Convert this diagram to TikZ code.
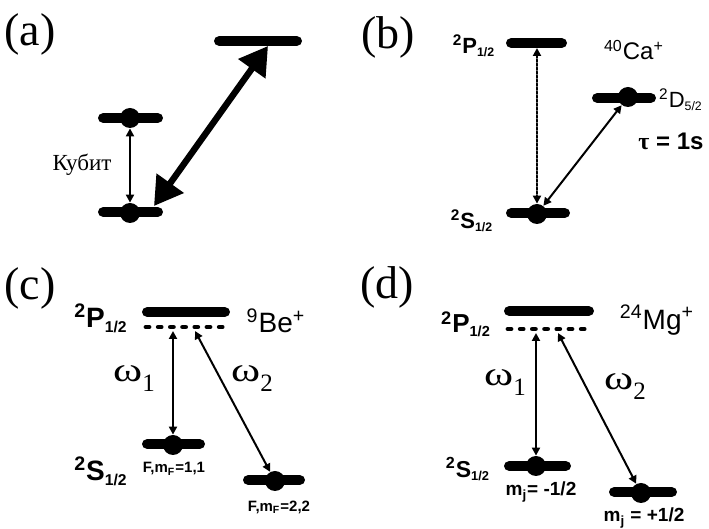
\documentclass[tikz,border=0pt]{standalone}
\usepackage{fontspec}
\usepackage{graphicx}
\setmainfont{Liberation Serif}
\setsansfont{Liberation Sans}
\usetikzlibrary{arrows.meta}

\newcommand{\fsz}[1]{\fontsize{#1}{#1}\selectfont}
\newcommand{\term}[3]{\textsuperscript{#1}#2\textsubscript{\scalebox{0.8}{#3}}}
\newcommand{\omg}[1]{\scalebox{1.3}[1]{ω}\raisebox{-5pt}{\fsz{12.5}#1}}

\begin{document}
\begin{tikzpicture}[x=0.5pt,y=-0.5pt,line cap=round,line join=round,
  qtip/.tip={Triangle[length=4pt,width=4pt]},
  level/.style={fill=black,rounded corners=2.4pt,minimum height=4.8pt,inner sep=0pt},
  pop/.style={circle,fill=black,minimum size=10pt,inner sep=0pt},
  virt/.style={line width=2.4pt,dash pattern=on 1.5pt off 4.6pt},
  trans/.style={qtip-qtip,line width=1pt},
  bigarr/.style={line width=3.2pt,arrows={Triangle[length=14pt,width=16pt]-Triangle[length=14pt,width=16pt]}},
  plab/.style={font=\fsz{23}},
  tlab/.style={font=\sffamily\bfseries\fsz{#1}},
  ilab/.style={font=\sffamily\fsz{#1}},
  wlab/.style={font=\rmfamily\fsz{17}}]
  \useasboundingbox (0,0) rectangle (709,529);

  % ---- (a) qubit levels ----
  \node[plab] (labA) at (30,34) {(a)};
  \node[level,minimum width=44pt] (aTop) at (258,41) {};
  \node[level,minimum width=32.5pt] (aUp) at (130.5,118) {};
  \node[level,minimum width=32.5pt] (aLo) at (130.5,212) {};
  \node[pop] (aUpDot) at (130,118) {};
  \node[pop] (aLoDot) at (130,213) {};
  \node[font=\fsz{11.5}] (qubit) at (82,165) {Кубит};
  \draw[trans] (aUpDot) -- (aLoDot);
  \coordinate (aHi) at (268,46);
  \coordinate (aLoEnd) at (154,206);
  \draw[bigarr] (aLoEnd) -- (aHi);

  % ---- (b) 40Ca+ ----
  \node[plab] (labB) at (388,37) {(b)};
  \node[level,minimum width=30.5pt] (bP) at (536.5,43) {};
  \node[level,minimum width=32pt] (bD) at (624,98) {};
  \node[level,minimum width=32pt] (bS) at (538,213) {};
  \node[pop] (bDDot) at (628,97) {};
  \node[pop] (bSDot) at (537,214) {};
  \node[tlab=11] (bPtxt) at (474,46) {\term{2}{P}{1/2}};
  \node[ilab=12] (ca) at (634,50) {\textsuperscript{40}Ca\textsuperscript{+}};
  \node[ilab=11] (bDtxt) at (681,100) {\term{2}{D}{5/2}};
  \node[tlab=12] (tau) at (671,141) {{\rmfamily τ} = 1s};
  \node[tlab=11] (bStxt) at (472,221) {\term{2}{S}{1/2}};
  \coordinate (bPfoot) at (537,48);
  \draw[trans,dash pattern=on 1.2pt off 0.8pt] (bPfoot) -- (bSDot);
  \draw[trans] (bSDot) -- (bDDot);

  % ---- (c) 9Be+ ----
  \node[plab] (labC) at (30,288) {(c)};
  \node[level,minimum width=44pt] (cP) at (186,312) {};
  \draw[virt] (146,327) -- (225,327);
  \node[level,minimum width=31.5pt] (cS1) at (173.5,444) {};
  \node[level,minimum width=31pt] (cS2) at (274,480) {};
  \node[pop] (cS1Dot) at (173,445) {};
  \node[pop] (cS2Dot) at (275,481) {};
  \node[tlab=14] (cPtxt) at (101,318) {\term{2}{P}{1/2}};
  \node[ilab=14] (be) at (276,321) {\textsuperscript{9}Be\textsuperscript{+}};
  \node[tlab=14] (cStxt) at (101,471) {\term{2}{S}{1/2}};
  \node[tlab=7.5] (cF1) at (174,469) {F,m\textsubscript{F}=1,1};
  \node[tlab=7.5] (cF2) at (279,507) {F,m\textsubscript{F}=2,2};
  \node[wlab] (cW1) at (134,379) {\omg{1}};
  \node[wlab] (cW2) at (252,379) {\omg{2}};
  \coordinate (cV1) at (173,331);
  \coordinate (cV2) at (195,331);
  \draw[trans] (cV1) -- (cS1Dot);
  \draw[trans] (cV2) -- (cS2Dot);

  % ---- (d) 24Mg+ ----
  \node[plab] (labD) at (387,287) {(d)};
  \node[level,minimum width=45pt] (dP) at (549,311) {};
  \draw[virt] (508,329) -- (589,329);
  \node[level,minimum width=33.5pt] (dS1) at (537.5,466) {};
  \node[level,minimum width=34pt] (dS2) at (643,492) {};
  \node[pop] (dS1Dot) at (536,466) {};
  \node[pop] (dS2Dot) at (641,493) {};
  \node[tlab=13] (dPtxt) at (466,324) {\term{2}{P}{1/2}};
  \node[ilab=14] (mg) at (657,320) {\textsuperscript{24}Mg\textsuperscript{+}};
  \node[tlab=11.5] (dStxt) at (468,469) {\term{2}{S}{1/2}};
  \node[tlab=9.5] (dM1) at (541,492) {m\textsubscript{j}= -1/2};
  \node[tlab=9.5] (dM2) at (644,518) {m\textsubscript{j} = +1/2};
  \node[wlab] (dW1) at (505,383) {\omg{1}};
  \node[wlab] (dW2) at (625,387) {\omg{2}};
  \coordinate (dV1) at (536,333);
  \coordinate (dV2) at (558,333);
  \draw[trans] (dV1) -- (dS1Dot);
  \draw[trans] (dV2) -- (dS2Dot);
\end{tikzpicture}
\end{document}
